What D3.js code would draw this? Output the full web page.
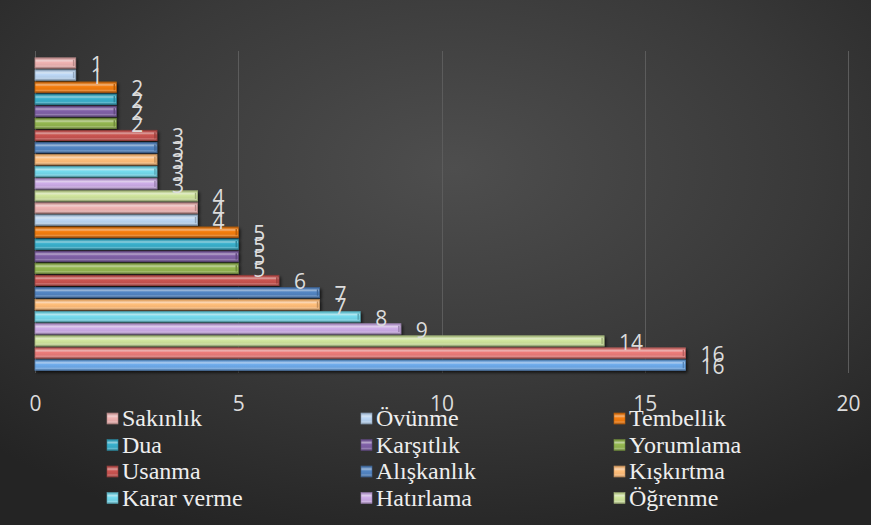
<!DOCTYPE html>
<html>
<head>
<meta charset="utf-8">
<script src="https://cdn.jsdelivr.net/npm/d3@7"></script>
<style>
  html, body { margin: 0; padding: 0; background: #2a2a2a; }
  svg { display: block; }
</style>
</head>
<body>
<svg id="chart" width="871" height="525"></svg>
<script>
// ---- data ----
const legendNames = ["Sakınlık", "Övünme", "Tembellik", "Dua", "Karşıtlık", "Yorumlama",
                     "Usanma", "Alışkanlık", "Kışkırtma", "Karar verme", "Hatırlama", "Öğrenme"];
// bar values, from top bar to bottom bar
const barValues = [1, 1, 2, 2, 2, 2, 3, 3, 3, 3, 3, 4, 4, 4, 5, 5, 5, 5, 6, 7, 7, 8, 9, 14, 16, 16];
const xTicks = [0, 5, 10, 15, 20];

// ---- styles ----
const palette = ["#e3aaa9", "#b3cde9", "#e8770f", "#36a7c2", "#7a5c9f", "#8cad4c",
                 "#c0504d", "#4f7fba", "#f5b574", "#6fd0e2", "#c3a4dc", "#c6da96"];
const thirdCycle = ["#e07674", "#69a3e0"];
function barColor(i) {
  if (i >= 24) return thirdCycle[i - 24] || palette[i % 12];
  return palette[i % 12];
}

const W = 871, H = 525;
const svg = d3.select("#chart");
const defs = svg.append("defs");

// background radial gradient
const bg = defs.append("radialGradient").attr("id", "bg")
  .attr("cx", "52%").attr("cy", "32%").attr("r", "75%");
bg.append("stop").attr("offset", "0%").attr("stop-color", "#4e4e4e");
bg.append("stop").attr("offset", "55%").attr("stop-color", "#393939");
bg.append("stop").attr("offset", "100%").attr("stop-color", "#242424");
svg.append("rect").attr("width", W).attr("height", H).attr("fill", "url(#bg)");

// shadow filter
const f = defs.append("filter").attr("id", "shadow").attr("x", "-5%").attr("y", "-50%")
  .attr("width", "115%").attr("height", "250%");
f.append("feDropShadow").attr("dx", 1.5).attr("dy", 2).attr("stdDeviation", 1.4)
  .attr("flood-color", "#000").attr("flood-opacity", 0.7);

function mix(c, t) { return d3.color(d3.interpolateRgb(c, "#ffffff")(t)); }
function makeGrad(id, c) {
  const base = d3.color(c);
  const g = defs.append("linearGradient").attr("id", id)
    .attr("x1", 0).attr("y1", 0).attr("x2", 0).attr("y2", 1);
  const stops = [
    [0, base.darker(0.9)],
    [0.1, base.darker(0.2)],
    [0.28, mix(c, 0.45)],
    [0.45, base.brighter(0.15)],
    [0.7, base],
    [0.82, mix(c, 0.2)],
    [1, base.darker(1.0)]
  ];
  stops.forEach(([o, col]) => g.append("stop").attr("offset", o).attr("stop-color", col.formatHex()));
}
barValues.forEach((v, i) => makeGrad("g" + i, barColor(i)));
palette.forEach((c, i) => makeGrad("lg" + i, c));

// scales
const x = d3.scaleLinear().domain([0, 20]).range([35, 848]);
const y = d3.scaleBand().domain(d3.range(barValues.length)).range([56, 372])
  .paddingInner(0.15).paddingOuter(0.15);
const plotTop = 51, plotBottom = 373;

// gridlines
svg.append("g").selectAll("line").data(xTicks).join("line")
  .attr("x1", d => Math.round(x(d)) + 0.5).attr("x2", d => Math.round(x(d)) + 0.5)
  .attr("y1", plotTop).attr("y2", plotBottom)
  .attr("stroke", "#5c5c5c").attr("stroke-width", 1);

// bars
const bars = svg.append("g");
bars.selectAll("rect").data(barValues).join("rect")
  .attr("x", x(0))
  .attr("y", (d, i) => y(i))
  .attr("width", d => x(d) - x(0))
  .attr("height", y.bandwidth())
  .attr("fill", (d, i) => `url(#g${i})`)
  .attr("stroke", (d, i) => d3.color(barColor(i)).darker(0.7).formatHex())
  .attr("stroke-width", 0.8)
  .attr("filter", "url(#shadow)");
// end bevel
bars.selectAll("line.end").data(barValues).join("line").attr("class", "end")
  .attr("x1", d => x(d) - 2).attr("x2", d => x(d) - 2)
  .attr("y1", (d, i) => y(i) + 2).attr("y2", (d, i) => y(i) + y.bandwidth() - 2)
  .attr("stroke", (d, i) => d3.color(barColor(i)).darker(0.6).formatHex())
  .attr("stroke-width", 1.5);

// data labels
svg.append("g").selectAll("text").data(barValues).join("text")
  .attr("x", d => x(d) + 15)
  .attr("y", (d, i) => y(i) + y.bandwidth() / 2 + 1)
  .attr("dominant-baseline", "central")
  .attr("font-family", "'Open Sans', sans-serif")
  .attr("font-size", 21)
  .attr("fill", "#dcdcdc")
  .text(d => d);

// x axis labels
const xAxis = d3.axisBottom(x).tickValues(xTicks).tickSize(0).tickPadding(0);
const ax = svg.append("g").attr("transform", "translate(0,396)").call(xAxis);
ax.select(".domain").remove();
ax.selectAll("text")
  .attr("font-family", "'Open Sans', sans-serif")
  .attr("font-size", 21)
  .attr("fill", "#dcdcdc");

// legend
const colX = [107, 361, 614];
const rowY = [426, 452.5, 479, 505.5];
const leg = svg.append("g").selectAll("g").data(legendNames).join("g")
  .attr("transform", (d, i) => `translate(${colX[i % 3]},${rowY[Math.floor(i / 3)]})`);
leg.append("rect").attr("x", 0).attr("y", -13).attr("width", 11).attr("height", 11)
  .attr("fill", (d, i) => `url(#lg${i})`)
  .attr("stroke", (d, i) => d3.color(palette[i]).darker(0.6).formatHex())
  .attr("stroke-width", 0.6);
leg.append("text").attr("x", 15).attr("y", 0)
  .attr("font-family", "'Liberation Serif', 'DejaVu Serif', serif")
  .attr("font-size", 24)
  .attr("fill", "#eeeeee")
  .text(d => d);
</script>
</body>
</html>
